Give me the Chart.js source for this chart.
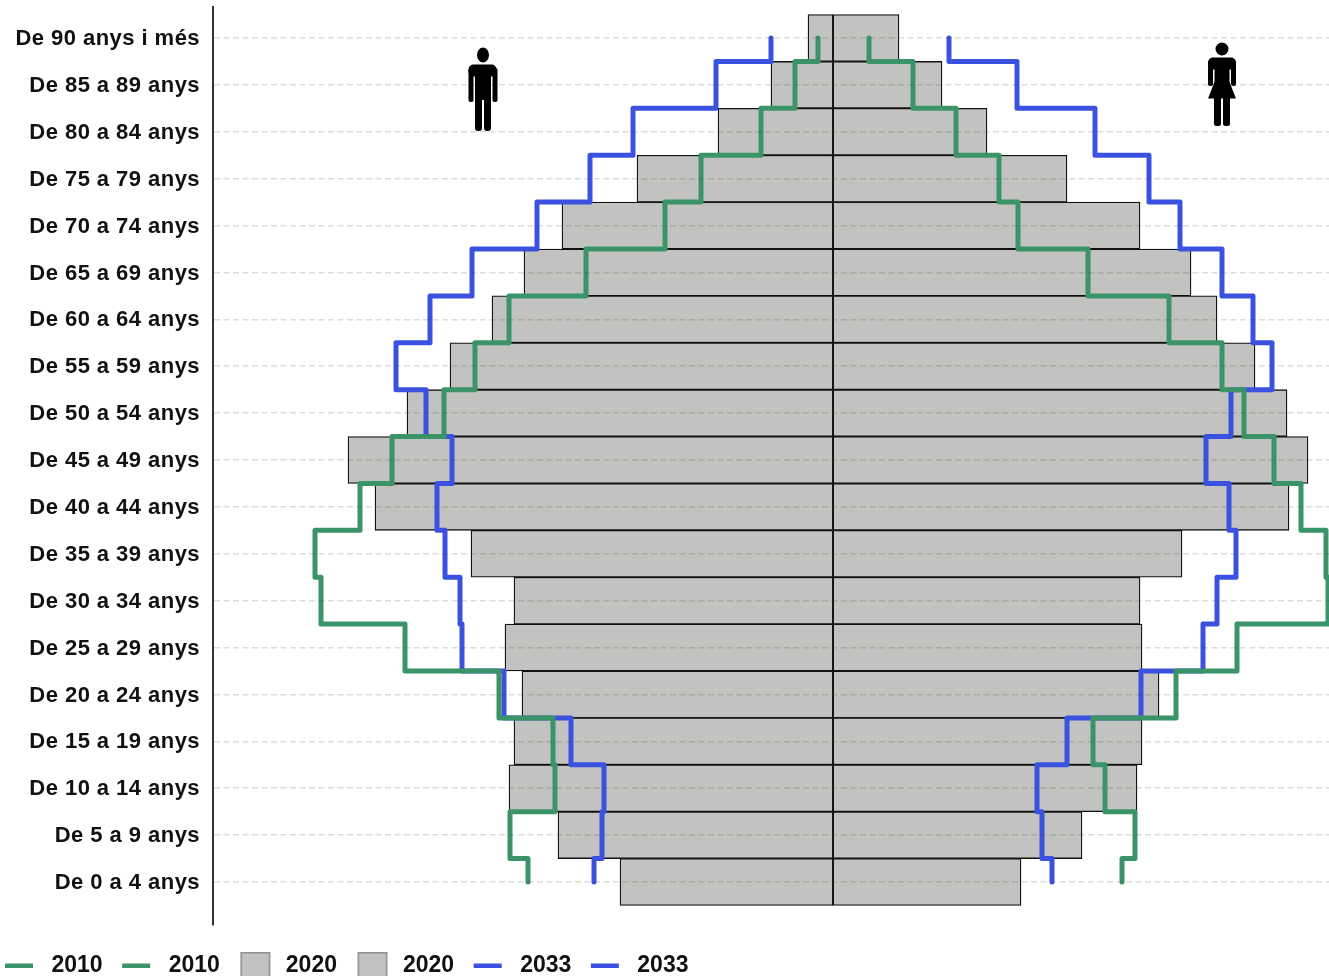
<!DOCTYPE html>
<html>
<head>
<meta charset="utf-8">
<style>
html,body{margin:0;padding:0;background:#fff;overflow:hidden}
canvas{display:block;filter:blur(0.5px)}
</style>
<script src="https://cdn.jsdelivr.net/npm/chart.js@4"></script>
</head>
<body>
<canvas id="c" width="1329" height="976"></canvas>
<script>
const categories = ["De 90 anys i més","De 85 a 89 anys","De 80 a 84 anys","De 75 a 79 anys","De 70 a 74 anys","De 65 a 69 anys","De 60 a 64 anys","De 55 a 59 anys","De 50 a 54 anys","De 45 a 49 anys","De 40 a 44 anys","De 35 a 39 anys","De 30 a 34 anys","De 25 a 29 anys","De 20 a 24 anys","De 15 a 19 anys","De 10 a 14 anys","De 5 a 9 anys","De 0 a 4 anys"];
const men2020   = [-0.25,-0.62,-1.15,-1.96,-2.71,-3.09,-3.41,-3.83,-4.26,-4.85,-4.58,-3.62,-3.19,-3.28,-3.11,-3.19,-3.24,-2.75,-2.13];
const women2020 = [0.66,1.09,1.54,2.34,3.07,3.58,3.84,4.22,4.54,4.75,4.56,3.49,3.07,3.09,3.26,3.09,3.04,2.49,1.88];
const men2010   = [-0.15,-0.38,-0.72,-1.32,-1.68,-2.47,-3.24,-3.58,-3.89,-4.41,-4.73,-5.18,-5.12,-4.28,-3.34,-2.80,-2.78,-3.23,-3.05];
const women2010 = [0.36,0.80,1.23,1.66,1.85,2.55,3.36,3.89,4.11,4.41,4.68,4.93,4.95,4.04,3.43,2.60,2.72,3.02,2.89];
const men2033   = [-0.62,-1.17,-2.00,-2.43,-2.96,-3.61,-4.03,-4.37,-4.07,-3.81,-3.96,-3.88,-3.73,-3.71,-3.29,-2.62,-2.29,-2.31,-2.39];
const women2033 = [1.16,1.84,2.62,3.16,3.47,3.89,4.20,4.39,3.98,3.73,3.96,4.03,3.84,3.70,3.08,2.34,2.04,2.09,2.19];
const seriesNames = ["2010","2010","2020","2020","2033","2033"];

const GREEN = "#3a9468", BLUE = "#3b52e0", BAR = "#c2c2c0";

// vertical step outline: each age group holds its value across its row
function stepPoints(values){
  const pts = [];
  values.forEach((v,i)=>{
    pts.push({x:v, y: i===0 ? 0 : i-0.5});
    pts.push({x:v, y: i===values.length-1 ? i : i+0.5});
  });
  return pts;
}
const barPoints = values => values.map((v,i)=>({x:v,y:i}));

function swatch(kind,color){
  const cv = document.createElement("canvas");
  cv.width = 40; cv.height = 27;
  const g = cv.getContext("2d");
  if(kind==="line"){
    g.fillStyle = color; g.fillRect(5,11.5,28,4.5);
  } else {
    g.fillStyle = color; g.fillRect(6,0,30,27);
    g.strokeStyle = "#8f8f8d"; g.lineWidth = 1.5; g.strokeRect(6.75,0.75,28.5,30);
  }
  return cv;
}
const swatches = [swatch("line",GREEN),swatch("line",GREEN),swatch("bar",BAR),swatch("bar",BAR),swatch("line",BLUE),swatch("line",BLUE)];

function lineDs(label,values,color,order){
  return {type:"line",label,data:stepPoints(values),indexAxis:"y",borderColor:color,backgroundColor:color,
    borderWidth:5,pointRadius:0,tension:0,fill:false,borderJoinStyle:"round",order};
}
function barDs(label,values){
  return {type:"bar",label,data:barPoints(values),backgroundColor:BAR,borderColor:"#111",borderWidth:1.3,
    borderSkipped:false,grouped:false,barPercentage:1,categoryPercentage:1,order:3};
}

function drawMan(ctx){
  ctx.save(); ctx.fillStyle="#000";
  ctx.beginPath(); ctx.ellipse(483,55,6,7.5,0,0,Math.PI*2); ctx.fill();
  ctx.beginPath(); ctx.roundRect(468.5,64.5,28,12,5); ctx.fill();
  ctx.fillRect(475,68,16,32);
  ctx.beginPath(); ctx.roundRect(468.5,68,5,34,2); ctx.fill();
  ctx.beginPath(); ctx.roundRect(492.5,68,5,34,2); ctx.fill();
  ctx.beginPath(); ctx.roundRect(475,96,7,35,3); ctx.fill();
  ctx.beginPath(); ctx.roundRect(484,96,7,35,3); ctx.fill();
  ctx.restore();
}
function drawWoman(ctx){
  ctx.save(); ctx.fillStyle="#000";
  ctx.beginPath(); ctx.ellipse(1222,49,6.5,6.5,0,0,Math.PI*2); ctx.fill();
  ctx.beginPath(); ctx.roundRect(1208,57.5,28,12,5); ctx.fill();
  ctx.beginPath(); ctx.roundRect(1208,62,5,24,2); ctx.fill();
  ctx.beginPath(); ctx.roundRect(1231,62,5,24,2); ctx.fill();
  ctx.fillRect(1214.5,60,15,26);
  ctx.beginPath(); ctx.moveTo(1214.5,82); ctx.lineTo(1229.5,82); ctx.lineTo(1236,98.5); ctx.lineTo(1208,98.5); ctx.closePath(); ctx.fill();
  ctx.beginPath(); ctx.roundRect(1214,96,7,30,2.5); ctx.fill();
  ctx.beginPath(); ctx.roundRect(1223,96,7,30,2.5); ctx.fill();
  ctx.restore();
}

const tuning = {
  id:"tuning",
  beforeLayout(chart){
    const lg = chart.legend;
    if(lg && !lg._fixed){
      const f = lg.fit;
      lg.fit = function(){ f.call(this); this.height = 51; };
      lg._fixed = true;
    }
  },
  afterLayout(chart){
    chart.legend.left = -14.5;
    chart.legend.top = 925 + 10 - 14.5 + 19;
  },
  beforeDraw(chart){
    const s = chart.scales.y, ctx = chart.ctx;
    if(!s._spaced){
      const d = s.drawLabels;
      s.drawLabels = function(a){ ctx.save(); ctx.translate(0,1); ctx.letterSpacing = "0.45px"; d.call(this,a); ctx.restore(); };
      s._spaced = true;
    }
  },
  afterDraw(chart){ drawMan(chart.ctx); drawWoman(chart.ctx); }
};

new Chart(document.getElementById("c"),{
  type:"bar",
  data:{
    labels:categories,
    datasets:[
      lineDs(seriesNames[0],men2010,GREEN,1),
      lineDs(seriesNames[1],women2010,GREEN,1),
      barDs(seriesNames[2],men2020),
      barDs(seriesNames[3],women2020),
      lineDs(seriesNames[4],men2033,BLUE,2),
      lineDs(seriesNames[5],women2033,BLUE,2)
    ]
  },
  options:{
    indexAxis:"y",
    responsive:false,
    animation:false,
    devicePixelRatio:1,
    layout:{padding:{top:7,left:0,right:0,bottom:0}},
    interaction:{mode:null},
    plugins:{
      title:{display:false},
      tooltip:{enabled:false},
      legend:{
        display:true,position:"bottom",align:"start",
        labels:{
          usePointStyle:true,pointStyleWidth:40,boxHeight:27,padding:14.5,color:"#111",
          font:{family:"'Liberation Sans'",size:23,weight:"bold"},
          generateLabels(chart){
            return chart.data.datasets.map((d,i)=>({text:d.label,pointStyle:swatches[i],datasetIndex:i,fontColor:"#111",hidden:false,lineWidth:0}));
          }
        }
      }
    },
    scales:{
      x:{type:"linear",display:false,min:-6.2,max:4.96,grid:{display:false}},
      y:{
        type:"linear",reverse:true,min:-0.661,max:18.917,offset:false,
        afterBuildTicks(s){ s.ticks = categories.map((c,i)=>({value:i})); },
        afterFit(s){ s.width = 213; s.paddingTop = 0; s.paddingBottom = 0; },
        grid:{offset:false,color:"rgba(60,60,50,0.18)",lineWidth:1.5,drawTicks:false,z:1},
        border:{display:true,color:"#333",width:2,dash:[6,3.5],z:1},
        ticks:{
          autoSkip:false,padding:13,color:"#111",
          font:{family:"'Liberation Sans'",size:22,weight:"bold"},
          callback(v){ return categories[v]; }
        }
      }
    }
  },
  plugins:[tuning]
});
</script>
</body>
</html>
